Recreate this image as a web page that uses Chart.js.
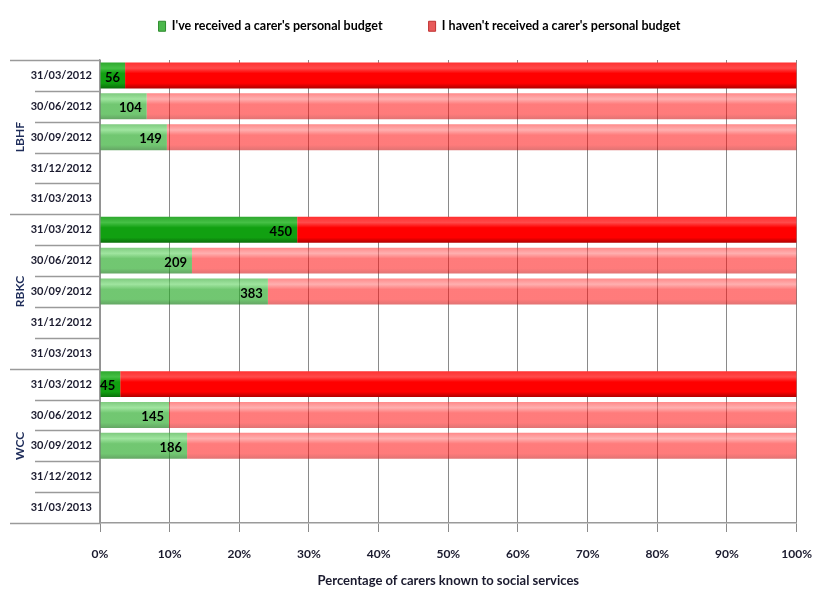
<!DOCTYPE html>
<html>
<head>
<meta charset="utf-8">
<script src="https://cdn.jsdelivr.net/npm/chart.js@4"></script>
<style>
  html, body { margin: 0; padding: 0; background: #fff; }
  #wrap { width: 827px; height: 589px; }
</style>
</head>
<body>
<div id="wrap"><canvas id="budgetChart" width="827" height="589"></canvas></div>
<script>
// dates shown for every authority
const dateLabels = [
    '31/03/2012', '30/06/2012', '30/09/2012', '31/12/2012', '31/03/2013',
    '31/03/2012', '30/06/2012', '30/09/2012', '31/12/2012', '31/03/2013',
    '31/03/2012', '30/06/2012', '30/09/2012', '31/12/2012', '31/03/2013'
];
const groupNames = ['LBHF', 'RBKC', 'WCC'];
const rowsPerGroup = 5;

// number of carers with a budget (label on the green part)
const receivedCount = [56, 104, 149, null, null, 450, 209, 383, null, null, 45, 145, 186, null, null];
// share of carers, in %
const receivedPct = [3.6, 6.7, 9.6, null, null, 28.3, 13.2, 24.1, null, null, 2.9, 9.9, 12.5, null, null];
const notReceivedPct = [96.4, 93.3, 90.4, null, null, 71.7, 86.8, 75.9, null, null, 97.1, 90.1, 87.5, null, null];

const xTicks = [0, 10, 20, 30, 40, 50, 60, 70, 80, 90, 100];

const fontFam = "Lato, 'DejaVu Sans Condensed', sans-serif";
const textCol = '#1a1a2e';
const lineCol = '#9a9a9a';
const barPct = 0.84;

// gloss colours: [top edge, highlight, body, bottom]
const solidGreen = ['#2ea82e', '#45c045', '#11a011', '#0a6e0a'];
const fadedGreen = ['rgba(60,175,60,0.66)', 'rgba(110,215,110,0.66)', 'rgba(40,170,40,0.66)', 'rgba(20,120,20,0.66)'];
const solidRed = ['#ff3030', '#ff4a4a', '#ff0000', '#b00000'];
const fadedRed = ['rgba(255,40,40,0.55)', 'rgba(255,110,110,0.55)', 'rgba(255,15,15,0.55)', 'rgba(200,0,0,0.55)'];

// vertical gradient for one bar, placed with the category scale
function glossFill(ctx, stops) {
    const chart = ctx.chart;
    const y = chart.scales.y;
    if (!y || !chart.chartArea) return stops[2];
    const mid = y.getPixelForValue(ctx.dataIndex);
    const half = (y.height / dateLabels.length) * barPct / 2;
    const g = chart.ctx.createLinearGradient(0, mid - half, 0, mid + half);
    g.addColorStop(0, stops[0]);
    g.addColorStop(0.22, stops[1]);
    g.addColorStop(0.42, stops[2]);
    g.addColorStop(0.8, stops[2]);
    g.addColorStop(1, stops[3]);
    return g;
}
function greenFor(ctx) {
    return glossFill(ctx, ctx.dataIndex % rowsPerGroup === 0 ? solidGreen : fadedGreen);
}
function redFor(ctx) {
    return glossFill(ctx, ctx.dataIndex % rowsPerGroup === 0 ? solidRed : fadedRed);
}

// count labels + group names + separator lines on the category axis
const extrasPlugin = {
    id: 'extras',
    beforeInit(chart) {
        // fixed legend band so the plot starts lower down
        const fit = chart.legend.fit;
        chart.legend.fit = function () {
            fit.call(this);
            this.height = 86;
            if (this.lineWidths && this.lineWidths.length) this.lineWidths[0] -= 32;
        };
    },
    afterDatasetsDraw(chart) {
        const ctx = chart.ctx;
        const meta = chart.getDatasetMeta(0);
        ctx.save();
        ctx.font = 'bold 13px ' + fontFam;
        ctx.fillStyle = '#000';
        ctx.textAlign = 'right';
        ctx.textBaseline = 'middle';
        meta.data.forEach((bar, i) => {
            if (receivedCount[i] == null) return;
            ctx.fillText(String(receivedCount[i]), bar.x - 5, bar.y + 2);
        });
        ctx.restore();
    },
    afterDraw(chart) {
        const ctx = chart.ctx;
        const y = chart.scales.y;
        const area = chart.chartArea;
        ctx.save();
        ctx.strokeStyle = lineCol;
        ctx.lineWidth = 1.5;
        for (let i = 0; i <= dateLabels.length; i++) {
            const py = Math.round(y.getPixelForValue(i - 0.5)) + 0.5;
            const isGroupEdge = i % rowsPerGroup === 0;
            const x0 = isGroupEdge ? y.left : y.left + 25;
            ctx.beginPath();
            ctx.moveTo(x0, py);
            ctx.lineTo(area.left, py);
            ctx.stroke();
        }
        ctx.fillStyle = '#1f2d5a';
        ctx.font = 'bold 12px ' + fontFam;
        ctx.textAlign = 'center';
        ctx.textBaseline = 'middle';
        groupNames.forEach((name, g) => {
            const mid = y.getPixelForValue(g * rowsPerGroup + 2);
            ctx.save();
            ctx.translate(y.left + 10, mid);
            ctx.rotate(-Math.PI / 2);
            ctx.fillText(name, 0, 0);
            ctx.restore();
        });
        ctx.restore();
    }
};

new Chart(document.getElementById('budgetChart'), {
    type: 'bar',
    data: {
        labels: dateLabels,
        datasets: [
            {
                label: "I've received a carer's personal budget",
                data: receivedPct,
                backgroundColor: greenFor,
                borderWidth: 0,
                barPercentage: barPct,
                categoryPercentage: 1
            },
            {
                label: "I haven't received a carer's personal budget",
                data: notReceivedPct,
                backgroundColor: redFor,
                borderWidth: 0,
                barPercentage: barPct,
                categoryPercentage: 1
            }
        ]
    },
    options: {
        indexAxis: 'y',
        responsive: false,
        animation: false,
        layout: { padding: { left: 10, right: 30, top: -26, bottom: 0 } },
        plugins: {
            tooltip: { enabled: false },
            legend: {
                position: 'top',
                labels: {
                    boxWidth: 7,
                    boxHeight: 10,
                    padding: 46,
                    color: textCol,
                    font: { family: fontFam, size: 12.5, weight: 'bold' },
                    generateLabels: (chart) => chart.data.datasets.map((ds, i) => ({
                        text: ds.label,
                        fillStyle: i === 0 ? '#4cb84c' : '#e85a5a',
                        strokeStyle: i === 0 ? '#2e8b2e' : '#c03030',
                        lineWidth: 1,
                        datasetIndex: i
                    }))
                }
            }
        },
        scales: {
            x: {
                stacked: true,
                min: 0,
                max: 100,
                afterBuildTicks: (scale) => { scale.ticks = xTicks.map(v => ({ value: v })); },
                ticks: {
                    callback: (v) => v + '%',
                    color: textCol,
                    padding: 15,
                    font: { family: fontFam, size: 12, weight: 'bold' }
                },
                grid: { color: '#8a8a8a', lineWidth: 1, tickLength: 9, drawOnChartArea: true },
                border: { color: lineCol, width: 1.5 },
                title: {
                    display: true,
                    text: 'Percentage of carers known to social services',
                    color: textCol,
                    padding: { top: -3, bottom: 0 },
                    font: { family: fontFam, size: 13, weight: 'bold' }
                }
            },
            y: {
                stacked: true,
                afterFit: (scale) => { scale.width = 90; },
                ticks: {
                    autoSkip: false,
                    color: textCol,
                    padding: 8,
                    font: { family: fontFam, size: 11, weight: 'bold' }
                },
                grid: { display: false, drawTicks: false },
                border: { color: lineCol, width: 1.5 }
            }
        }
    },
    plugins: [extrasPlugin]
});
</script>
</body>
</html>
